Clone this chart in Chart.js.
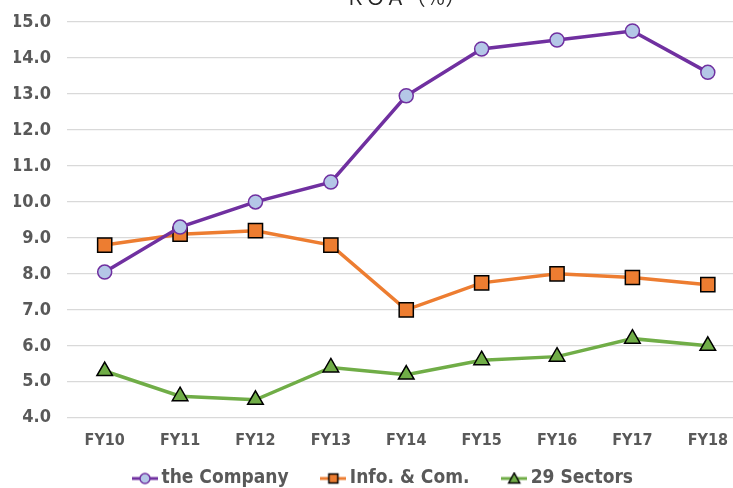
<!DOCTYPE html>
<html lang="en">
<head>
    <meta charset="UTF-8" />
    <title>ROA</title>
    <script src="https://cdn.jsdelivr.net/npm/chart.js"></script>
    <style>
        html, body { margin: 0; padding: 0; background: #fff; overflow: hidden; }
        #roaChart { position: absolute; left: 0; top: -24px; }
    </style>
</head>
<body>
    <canvas id="roaChart" width="757" height="530" style="width:757px;height:530px"></canvas>

    <script>
        const years = ["FY10", "FY11", "FY12", "FY13", "FY14", "FY15", "FY16", "FY17", "FY18"];
        const company = [8.05, 9.3, 10.0, 10.55, 12.95, 14.25, 14.5, 14.75, 13.6];
        const infoCom = [8.8, 9.1, 9.2, 8.8, 7.0, 7.75, 8.0, 7.9, 7.7];
        const sectors29 = [5.3, 4.6, 4.5, 5.4, 5.2, 5.6, 5.7, 6.2, 6.0];

        const tickColor = "#595959";
        const fontName = "'DejaVu Sans Condensed', 'DejaVu Sans', sans-serif";

        // small line + marker picture for the legend
        function legendIcon(lineColor, fill, border, shape) {
            const c = document.createElement("canvas");
            c.width = 26;
            c.height = 14;
            const g = c.getContext("2d");
            g.strokeStyle = lineColor;
            g.lineWidth = 3;
            g.beginPath();
            g.moveTo(0, 7);
            g.lineTo(26, 7);
            g.stroke();
            g.fillStyle = fill;
            g.strokeStyle = border;
            g.lineWidth = 1.5;
            g.beginPath();
            if (shape === "circle") {
                g.arc(13, 7, 5, 0, Math.PI * 2);
            } else if (shape === "rect") {
                g.rect(8.5, 2.5, 9, 9);
            } else {
                g.moveTo(13, 1.5);
                g.lineTo(18.5, 11.5);
                g.lineTo(7.5, 11.5);
                g.closePath();
            }
            g.fill();
            g.stroke();
            return c;
        }

        const icons = [
            legendIcon("#7030A0", "#B4C7E7", "#7030A0", "circle"),
            legendIcon("#ED7D31", "#ED7D31", "#000000", "rect"),
            legendIcon("#70AD47", "#70AD47", "#000000", "triangle")
        ];
        // extra room after the first two legend entries
        const gapAfter = ["\u00a0\u00a0\u00a0\u00a0", "\u00a0\u00a0\u00a0\u00a0", ""];

        const ctx = document.getElementById("roaChart").getContext("2d");
        const roaChart = new Chart(ctx, {
            type: "line",
            data: {
                labels: years,
                datasets: [
                    {
                        label: "the Company",
                        data: company,
                        borderColor: "#7030A0",
                        borderWidth: 3.5,
                        pointStyle: "circle",
                        pointRadius: 7,
                        pointBackgroundColor: "#B4C7E7",
                        pointBorderColor: "#7030A0",
                        pointBorderWidth: 1.5,
                        tension: 0
                    },
                    {
                        label: "Info. & Com.",
                        data: infoCom,
                        borderColor: "#ED7D31",
                        borderWidth: 3.5,
                        pointStyle: "rect",
                        pointRadius: 10,
                        pointBackgroundColor: "#ED7D31",
                        pointBorderColor: "#000000",
                        pointBorderWidth: 1.5,
                        tension: 0
                    },
                    {
                        label: "29 Sectors",
                        data: sectors29,
                        borderColor: "#70AD47",
                        borderWidth: 3.5,
                        pointStyle: "triangle",
                        pointRadius: 9,
                        pointBackgroundColor: "#70AD47",
                        pointBorderColor: "#000000",
                        pointBorderWidth: 1.5,
                        tension: 0
                    }
                ]
            },
            options: {
                responsive: false,
                animation: false,
                layout: { padding: { left: 14, right: 0, top: 0, bottom: 8 } },
                plugins: {
                    title: {
                        display: true,
                        text: "\u3000\u3000ＲＯＡ（％）",
                        color: "#262626",
                        font: { family: "'Noto Sans CJK JP', sans-serif", size: 20, weight: "normal" },
                        padding: { top: 9, bottom: 13 }
                    },
                    legend: {
                        position: "bottom",
                        labels: {
                            usePointStyle: true,
                            pointStyleWidth: 14,
                            boxHeight: 14,
                            padding: 14,
                            color: tickColor,
                            font: { family: fontName, size: 19, weight: "bold" },
                            generateLabels(chart) {
                                return chart.data.datasets.map((ds, i) => ({
                                    text: ds.label + gapAfter[i],
                                    pointStyle: icons[i],
                                    fillStyle: ds.borderColor,
                                    strokeStyle: ds.borderColor,
                                    lineWidth: 0,
                                    fontColor: tickColor,
                                    hidden: false,
                                    datasetIndex: i
                                }));
                            }
                        }
                    },
                    tooltip: { enabled: false }
                },
                scales: {
                    x: {
                        offset: true,
                        grid: { display: false },
                        border: { display: false },
                        ticks: {
                            color: tickColor,
                            padding: 5,
                            maxRotation: 0,
                            minRotation: 0,
                            font: { family: fontName, size: 16, weight: "bold" }
                        }
                    },
                    y: {
                        min: 4,
                        max: 15,
                        afterFit: (s) => { s.width = 53; },
                        grid: { color: "#d9d9d9", lineWidth: 1.3, drawTicks: false },
                        border: { display: false },
                        ticks: {
                            stepSize: 1,
                            color: tickColor,
                            padding: 16,
                            font: { family: fontName, size: 18, weight: "bold" },
                            callback: (v) => v.toFixed(1)
                        }
                    }
                }
            }
        });
    </script>
</body>
</html>
